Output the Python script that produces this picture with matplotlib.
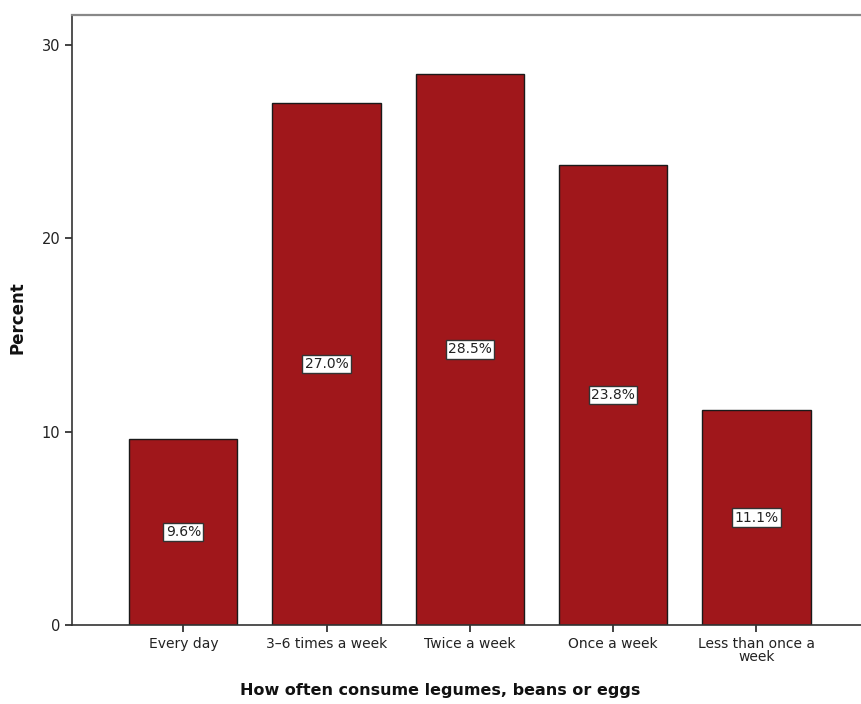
import matplotlib
matplotlib.use("Agg")
import matplotlib.pyplot as plt

categories = ["Every day", "3\u20136 times a week", "Twice a week", "Once a week", "Less than once a\nweek"]
percents = [9.6, 27.0, 28.5, 23.8, 11.1]
y_ticks = [0, 10, 20, 30]

plt.rcParams["font.family"] = ["DejaVu Sans"]

fig = plt.figure(figsize=(8.61, 7.04), dpi=100)
ax = fig.add_axes([72 / 861, 79 / 704, 1 - 72 / 861, 610 / 704])

x = list(range(len(categories)))
bars = ax.bar(x, percents, width=0.756, color="#A0171B", edgecolor="#1a1a1a", linewidth=1.0, zorder=2)

for xi, v in zip(x, percents):
    ax.text(xi, v / 2, f"{v:.1f}%", ha="center", va="center", fontsize=10, color="#222222",
            bbox=dict(boxstyle="square,pad=0.16", facecolor="white", edgecolor="#333333", linewidth=1.0),
            zorder=3)

ax.set_xlim(-0.777, 4.73)
ax.set_ylim(0, 31.55)
ax.set_yticks(y_ticks)
ax.set_xticks(x)
ax.set_xticklabels(categories, fontsize=10, color="#222222", linespacing=0.9)
ax.tick_params(axis="y", labelsize=10.5, colors="#222222", length=5, width=1.2)
ax.tick_params(axis="x", length=5, width=1.2, colors="#222222")

ax.spines["right"].set_visible(False)
ax.spines["top"].set_color("#888888")
ax.spines["top"].set_linewidth(1.6)
ax.spines["left"].set_linewidth(1.2)
ax.spines["bottom"].set_linewidth(1.2)
ax.spines["left"].set_color("#333333")
ax.spines["bottom"].set_color("#333333")

fig.text(440 / 861, 1 - 690 / 704, "How often consume legumes, beans or eggs", ha="center", va="center",
         fontsize=11.5, fontweight="bold", color="#111111")
fig.text(18 / 861, 1 - 318 / 704, "Percent", ha="center", va="center", rotation=90,
         fontsize=12, fontweight="bold", color="#111111")

fig.savefig("out.png", dpi=100)
